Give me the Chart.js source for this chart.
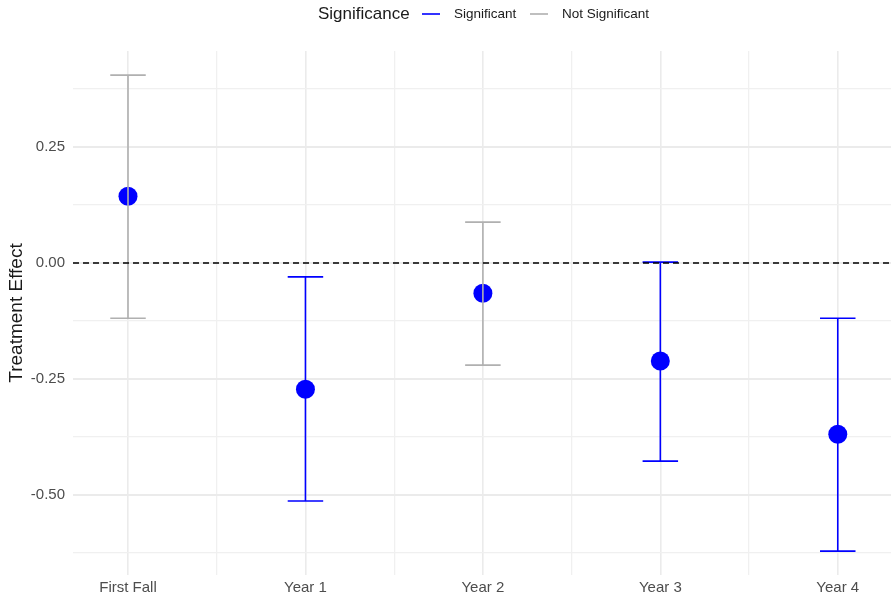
<!DOCTYPE html>
<html>
<head>
<meta charset="utf-8">
<script src="https://cdn.jsdelivr.net/npm/chart.js@4/dist/chart.umd.min.js"></script>
<style>
  html, body { margin: 0; padding: 0; background: #ffffff; }
  #wrap { width: 891px; height: 600px; position: relative; }
</style>
</head>
<body>
<div id="wrap"><canvas id="chart" width="891" height="600"></canvas></div>
<script>
// Treatment effect estimates with confidence intervals by period
const categories   = ['First Fall', 'Year 1', 'Year 2', 'Year 3', 'Year 4'];
const estimates    = [0.144, -0.272, -0.065, -0.211, -0.369];
const lowerBounds  = [-0.119, -0.513, -0.220, -0.427, -0.621];
const upperBounds  = [0.405, -0.030, 0.088, 0.002, -0.119];
const significance = ['Not Significant', 'Significant', 'Not Significant', 'Significant', 'Significant'];
const yTicks       = [-0.625, -0.5, -0.375, -0.25, -0.125, 0, 0.125, 0.25, 0.375];
const xTicks       = [1, 1.5, 2, 2.5, 3, 3.5, 4, 4.5, 5];

const sigColors = { 'Significant': '#0000ff', 'Not Significant': '#b0b0b0' };
const FONT = '"Liberation Sans", Arial, Helvetica, sans-serif';

const isMajorY = v => Math.abs(v / 0.25 - Math.round(v / 0.25)) < 1e-6;
const isMajorX = v => Math.abs(v - Math.round(v)) < 1e-6;

// Error bars drawn above the points, then the dashed zero reference line
const errorBarPlugin = {
  id: 'errorBars',
  afterDatasetsDraw(chart) {
    const { ctx, chartArea, scales: { x, y } } = chart;
    ctx.save();
    ctx.beginPath();
    ctx.rect(chartArea.left, chartArea.top, chartArea.right - chartArea.left, chartArea.bottom - chartArea.top);
    ctx.clip();
    ctx.lineWidth = 1.6;
    ctx.lineCap = 'butt';
    categories.forEach((c, i) => {
      const xc = x.getPixelForValue(i + 1);
      const x0 = x.getPixelForValue(i + 1 - 0.1);
      const x1 = x.getPixelForValue(i + 1 + 0.1);
      const yLo = y.getPixelForValue(lowerBounds[i]);
      const yHi = y.getPixelForValue(upperBounds[i]);
      ctx.strokeStyle = sigColors[significance[i]];
      ctx.beginPath();
      ctx.moveTo(xc, yLo); ctx.lineTo(xc, yHi);
      ctx.moveTo(x0, yLo); ctx.lineTo(x1, yLo);
      ctx.moveTo(x0, yHi); ctx.lineTo(x1, yHi);
      ctx.stroke();
    });
    const y0 = y.getPixelForValue(0);
    ctx.strokeStyle = '#000000';
    ctx.lineWidth = 1.5;
    ctx.setLineDash([6, 4]);
    ctx.beginPath();
    ctx.moveTo(chartArea.left, y0);
    ctx.lineTo(chartArea.right, y0);
    ctx.stroke();
    ctx.restore();
  }
};

// Inline legend across the top: title followed by line keys
const topLegendPlugin = {
  id: 'topLegend',
  afterDraw(chart) {
    const { ctx } = chart;
    ctx.save();
    ctx.textBaseline = 'middle';
    ctx.textAlign = 'left';
    const yMid = 14;
    ctx.fillStyle = '#1a1a1a';
    ctx.font = '17px ' + FONT;
    ctx.fillText('Significance', 318, yMid);
    const keys = [
      { label: 'Significant', color: sigColors['Significant'], x: 422 },
      { label: 'Not Significant', color: sigColors['Not Significant'], x: 530 }
    ];
    ctx.font = '13.5px ' + FONT;
    keys.forEach(k => {
      ctx.strokeStyle = k.color;
      ctx.lineWidth = 1.6;
      ctx.beginPath();
      ctx.moveTo(k.x, yMid);
      ctx.lineTo(k.x + 18, yMid);
      ctx.stroke();
      ctx.fillStyle = '#1a1a1a';
      ctx.fillText(k.label, k.x + 32, yMid);
    });
    ctx.restore();
  }
};

new Chart(document.getElementById('chart'), {
  type: 'scatter',
  data: {
    datasets: [{
      label: 'Estimate',
      data: estimates.map((v, i) => ({ x: i + 1, y: v })),
      backgroundColor: '#0000ff',
      borderWidth: 0,
      pointRadius: 9.5,
      pointHoverRadius: 9.5
    }]
  },
  options: {
    responsive: false,
    animation: false,
    events: [],
    layout: { autoPadding: false, padding: { top: 51, right: 0, left: 0, bottom: 0 } },
    plugins: {
      legend: { display: false },
      tooltip: { enabled: false }
    },
    scales: {
      x: {
        type: 'linear',
        min: 0.69,
        max: 5.30,
        afterBuildTicks: s => { s.ticks = xTicks.map(v => ({ value: v })); },
        afterFit: s => { s.height = 25; s.paddingLeft = 0; s.paddingRight = 0; },
        border: { display: false },
        grid: {
          drawTicks: false,
          color: ctx => isMajorX(ctx.tick.value) ? '#ebebeb' : '#f0f0f0',
          lineWidth: ctx => isMajorX(ctx.tick.value) ? 1.6 : 1.3
        },
        ticks: {
          autoSkip: false,
          maxRotation: 0,
          padding: 4,
          color: '#4d4d4d',
          font: { family: FONT, size: 15 },
          callback: v => isMajorX(v) ? categories[Math.round(v) - 1] : ''
        }
      },
      y: {
        type: 'linear',
        min: -0.6724,
        max: 0.4569,
        afterBuildTicks: s => { s.ticks = yTicks.map(v => ({ value: v })); },
        afterFit: s => { s.width = 73; s.paddingTop = 0; s.paddingBottom = 0; },
        border: { display: false },
        grid: {
          drawTicks: false,
          color: ctx => isMajorY(ctx.tick.value) ? '#ebebeb' : '#f0f0f0',
          lineWidth: ctx => isMajorY(ctx.tick.value) ? 2 : 1.3
        },
        ticks: {
          autoSkip: false,
          padding: 8,
          color: '#4d4d4d',
          font: { family: FONT, size: 15 },
          callback: v => isMajorY(v) ? v.toFixed(2) : ''
        },
        title: {
          display: true,
          text: 'Treatment Effect',
          color: '#1a1a1a',
          font: { family: FONT, size: 19 },
          padding: { top: 5, bottom: 0 }
        }
      }
    }
  },
  plugins: [errorBarPlugin, topLegendPlugin]
});
</script>
</body>
</html>
